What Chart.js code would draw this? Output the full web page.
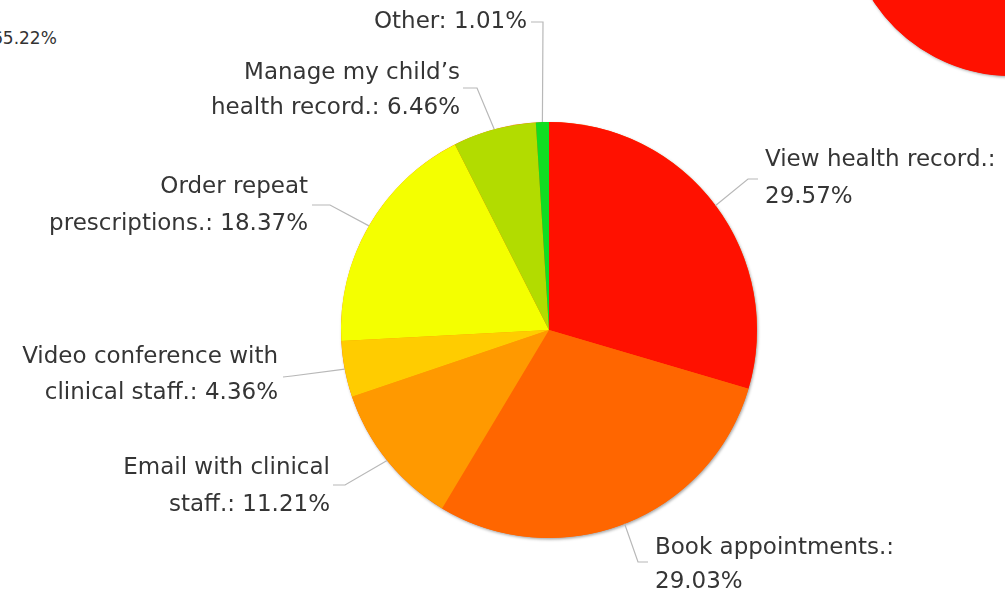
<!DOCTYPE html>
<html>
<head>
<meta charset="utf-8">
<script src="https://cdn.jsdelivr.net/npm/chart.js@4/dist/chart.umd.min.js"></script>
<style>
  html, body { margin: 0; padding: 0; background: #fff; overflow: hidden; }
  #wrap { position: relative; width: 1005px; height: 593px; overflow: hidden; }
  #main { position: absolute; left: 0; top: 0; }
  #side { position: absolute; left: 842px; top: -260px; }
  #sideLabel { position: absolute; left: -8px; top: 28px; font: 17px/20px "DejaVu Sans", sans-serif; color: #333; white-space: nowrap; }
</style>
</head>
<body>
<div id="wrap">
  <div id="sideLabel">65.22%</div>
  <canvas id="side" width="340" height="340"></canvas>
  <canvas id="main" width="1005" height="593"></canvas>
</div>
<script>
// ---- data ----
const categories = [
  "View health record.",
  "Book appointments.",
  "Email with clinical staff.",
  "Video conference with clinical staff.",
  "Order repeat prescriptions.",
  "Manage my child’s health record.",
  "Other"
];
// category names broken into display lines
const categoryLines = [
  ["View health record.:", ""],
  ["Book appointments.:", ""],
  ["Email with clinical", "staff.:"],
  ["Video conference with", "clinical staff.:"],
  ["Order repeat", "prescriptions.:"],
  ["Manage my child’s", "health record.:"],
  ["Other:"]
];
const values = [29.57, 29.03, 11.21, 4.36, 18.37, 6.46, 1.01];
const colors = ["#ff1100", "#ff6600", "#ff9900", "#ffcc00", "#f4ff00", "#b2dc00", "#11dd22"];

// neighbouring (cropped) pie at top right
const sideValues = [65.22, 34.78];
const sideColors = ["#ff1100", "#ff1100"];

// ---- label layout (annotation positions) ----
const labelLayout = [
  { elbow: [748, 179], end: [758, 179], align: "left",  x: 765, ys: [160, 197] },
  { elbow: [638, 562], end: [648, 562], align: "left",  x: 655, ys: [548, 582] },
  { elbow: [345, 485], end: [333, 485], align: "right", x: 330, ys: [468, 505] },
  { elbow: [292, 376], end: [283, 377], align: "right", x: 278, ys: [357, 393] },
  { elbow: [330, 205], end: [312, 205], align: "right", x: 308, ys: [187, 224] },
  { elbow: [477, 88],  end: [463, 88],  align: "right", x: 460, ys: [73, 108] },
  { elbow: [543, 22],  end: [531, 22],  align: "right", x: 527, ys: [22] }
];

function labelText(i) {
  const lines = categoryLines[i].slice();
  const pct = values[i].toFixed(2) + "%";
  const last = lines.length - 1;
  lines[last] = lines[last] ? lines[last] + " " + pct : pct;
  return lines;
}

const shadowPlugin = {
  id: "pieShadow",
  beforeDatasetsDraw(chart, args, opts) {
    const arc = chart.getDatasetMeta(0).data[0];
    if (!arc) return;
    const { x, y, outerRadius } = arc.getProps(["x", "y", "outerRadius"], true);
    const ctx = chart.ctx;
    ctx.save();
    ctx.shadowColor = "rgba(0,0,0,0.35)";
    ctx.shadowBlur = 3;
    ctx.shadowOffsetX = 1;
    ctx.shadowOffsetY = 1.5;
    ctx.fillStyle = opts.color || "#ff6600";
    ctx.beginPath();
    ctx.arc(x, y, outerRadius, 0, Math.PI * 2);
    ctx.fill();
    ctx.restore();
  }
};

const labelPlugin = {
  id: "leaderLabels",
  afterDatasetsDraw(chart) {
    const ctx = chart.ctx;
    const meta = chart.getDatasetMeta(0);
    ctx.save();
    meta.data.forEach((arc, i) => {
      const p = arc.getProps(["x", "y", "startAngle", "endAngle", "outerRadius"], true);
      const mid = (p.startAngle + p.endAngle) / 2;
      const sx = p.x + Math.cos(mid) * p.outerRadius;
      const sy = p.y + Math.sin(mid) * p.outerRadius;
      const L = labelLayout[i];
      ctx.strokeStyle = "#b8b8b8";
      ctx.lineWidth = 1.2;
      ctx.beginPath();
      ctx.moveTo(sx, sy);
      ctx.lineTo(L.elbow[0], L.elbow[1]);
      ctx.lineTo(L.end[0], L.end[1]);
      ctx.stroke();
      ctx.fillStyle = "#353535";
      ctx.font = '23px "DejaVu Sans", sans-serif';
      ctx.textAlign = L.align;
      ctx.textBaseline = "middle";
      const lines = labelText(i);
      lines.forEach((t, k) => ctx.fillText(t, L.x, L.ys[k]));
    });
    ctx.restore();
  }
};

new Chart(document.getElementById("main"), {
  type: "pie",
  data: {
    labels: categories,
    datasets: [{
      data: values,
      backgroundColor: colors,
      borderWidth: 0,
      hoverOffset: 0
    }]
  },
  options: {
    responsive: false,
    animation: false,
    radius: 208,
    layout: { padding: { left: 341, right: 248, top: 122, bottom: 55 } },
    plugins: {
      legend: { display: false },
      tooltip: { enabled: false },
      pieShadow: { color: "#ff6600" }
    },
    events: []
  },
  plugins: [shadowPlugin, labelPlugin]
});

new Chart(document.getElementById("side"), {
  type: "pie",
  data: {
    labels: ["A", "B"],
    datasets: [{ data: sideValues, backgroundColor: sideColors, borderWidth: 0, hoverOffset: 0 }]
  },
  options: {
    responsive: false,
    animation: false,
    radius: 166,
    rotation: 90,
    plugins: { legend: { display: false }, tooltip: { enabled: false }, pieShadow: { color: "#ff1100" } },
    events: []
  },
  plugins: [shadowPlugin]
});
</script>
</body>
</html>
